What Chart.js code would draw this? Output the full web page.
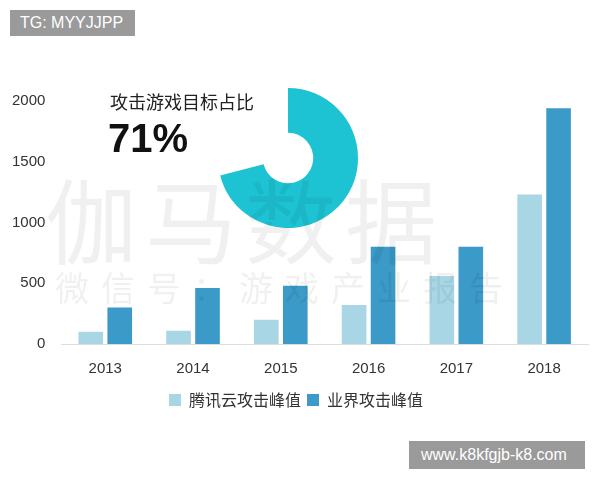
<!DOCTYPE html>
<html lang="zh">
<head>
  <meta charset="UTF-8" />
  <script src="https://cdn.jsdelivr.net/npm/chart.js"></script>
  <style>
    body { margin: 0; background: #fff; font-family: 'Noto Sans CJK SC', sans-serif; }
    #wrap { position: relative; width: 600px; height: 480px; overflow: hidden; }
    #bars { position: absolute; left: 0; top: 0; }
    #donut { position: absolute; left: 218px; top: 88px; }
    .tag { position: absolute; background: #9a9a9a; color: #fff; font-family: 'Liberation Sans', sans-serif; font-size: 16px; }
    .wm { position: absolute; color: rgba(0,0,0,0.06); white-space: nowrap; }
  </style>
</head>
<body>
<div id="wrap">
  <canvas id="bars" width="600" height="480"></canvas>
  <canvas id="donut" width="140" height="140"></canvas>
  <div style="position:absolute;left:110px;top:88px;font-size:18px;color:#222">攻击游戏目标占比</div>
  <div style="position:absolute;left:108px;top:116px;font-size:40px;font-weight:bold;color:#111;font-family:'Liberation Sans',sans-serif">71%</div>
  <div class="wm" style="left:45px;top:150px;font-size:92px;letter-spacing:8px">伽马数据</div>
  <div class="wm" style="left:55px;top:262px;font-size:34px;letter-spacing:12px">微信号：游戏产业报告</div>
  <div class="tag" style="left:10px;top:10px;padding:4px 12px 4px 10px">TG: MYYJJPP</div>
  <div class="tag" style="left:409px;top:441px;padding:5px 18px 5px 12px">www.k8kfgjb-k8.com</div>
</div>
<script>
  const years = ['2013', '2014', '2015', '2016', '2017', '2018'];
  const tencentPeak = [100, 110, 200, 320, 560, 1230];
  const industryPeak = [300, 460, 480, 800, 800, 1940];
  const yTicks = [0, 500, 1000, 1500, 2000];
  const donutShare = [71, 29];

  new Chart(document.getElementById('bars'), {
    type: 'bar',
    data: {
      labels: years,
      datasets: [
        { label: '腾讯云攻击峰值', data: tencentPeak, backgroundColor: '#a8d6e4' },
        { label: '业界攻击峰值', data: industryPeak, backgroundColor: '#3b9ac7' }
      ]
    },
    options: {
      responsive: false,
      animation: false,
      categoryPercentage: 0.66,
      barPercentage: 0.85,
      layout: { padding: { top: 101, bottom: 62, left: 4, right: 12 } },
      plugins: {
        tooltip: { enabled: false },
        legend: {
          position: 'bottom',
          labels: { color: '#333', boxWidth: 12, boxHeight: 12, padding: 6,
                    font: { size: 16, family: 'Noto Sans CJK SC' } }
        }
      },
      scales: {
        x: {
          grid: { display: false },
          border: { color: '#ddd' },
          ticks: { color: '#333', padding: 8, font: { size: 15, family: 'Liberation Sans' } }
        },
        y: {
          min: 0, max: 2000,
          afterBuildTicks: ax => { ax.ticks = yTicks.map(v => ({ value: v })); },
          grid: { display: false },
          border: { display: false },
          ticks: { color: '#333', padding: 8, callback: v => String(v),
                   font: { size: 15, family: 'Liberation Sans' } }
        }
      }
    }
  });

  new Chart(document.getElementById('donut'), {
    type: 'doughnut',
    data: {
      datasets: [{ data: donutShare, backgroundColor: ['#1ec3d3', 'rgba(0,0,0,0)'], borderWidth: 0 }]
    },
    options: {
      responsive: false,
      animation: false,
      cutout: '36%',
      plugins: { legend: { display: false }, tooltip: { enabled: false } }
    }
  });
</script>
</body>
</html>
